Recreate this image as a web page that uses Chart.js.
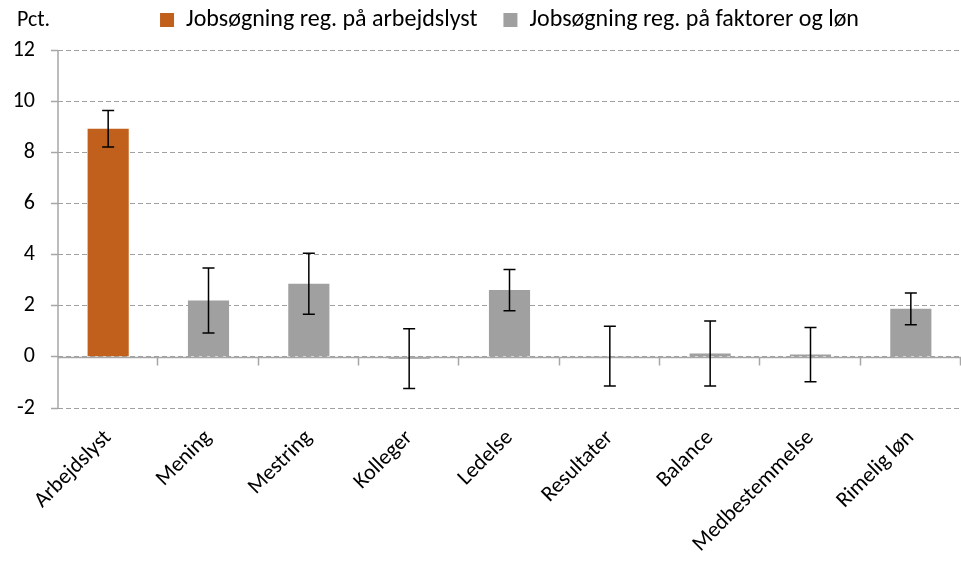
<!DOCTYPE html>
<html>
<head>
<meta charset="utf-8">
<script src="https://cdn.jsdelivr.net/npm/chart.js@4"></script>
<style>
  body { margin: 0; background: #fff; }
  #wrap { width: 961px; height: 563px; }
</style>
</head>
<body>
<div id="wrap"><canvas id="barChart" width="961" height="563"></canvas></div>
<script>
const categories = ['Arbejdslyst', 'Mening', 'Mestring', 'Kolleger', 'Ledelse', 'Resultater', 'Balance', 'Medbestemmelse', 'Rimelig løn'];
const arbejdslyst = [8.92, null, null, null, null, null, null, null, null];
const faktorer = [null, 2.2, 2.86, -0.07, 2.61, 0.03, 0.13, 0.09, 1.88];
const errArbejdslyst = [0.71, null, null, null, null, null, null, null, null];
const errFaktorer = [null, 1.27, 1.19, 1.17, 0.81, 1.17, 1.27, 1.06, 0.62];
const yTicks = [-2, 0, 2, 4, 6, 8, 10, 12];

const FONT = 'Carlito, "Liberation Sans Narrow", "Open Sans", sans-serif';
const LEGEND_PAD = 26;
const LEGEND_SIZE = 24;

// error bars + axis lines with tick marks, like the Excel original
const extras = {
    id: 'extras',
    afterLayout(chart) {
        // keep the legend row near the top edge
        chart.legend.top = 20 - LEGEND_SIZE / 2 - LEGEND_PAD;
    },
    afterDatasetsDraw(chart) {
        const ctx = chart.ctx;
        const y = chart.scales.y;
        const area = chart.chartArea;
        const y0 = Math.round(y.getPixelForValue(0)) + 0.5;
        const step = (area.right - area.left) / categories.length;

        ctx.save();
        ctx.strokeStyle = '#a6a6a6';
        ctx.lineWidth = 1.5;
        ctx.beginPath();
        ctx.moveTo(area.left, y0);
        ctx.lineTo(area.right, y0);
        for (let i = 1; i <= categories.length; i++) {
            const x = Math.round(area.left + i * step) - 0.5;
            ctx.moveTo(x, y0);
            ctx.lineTo(x, y0 + 8);
        }
        ctx.moveTo(area.left, area.top);
        ctx.lineTo(area.left, area.bottom);
        ctx.stroke();

        const errs = [errArbejdslyst, errFaktorer];
        ctx.strokeStyle = '#000';
        ctx.lineWidth = 1.5;
        chart.data.datasets.forEach((ds, d) => {
            const meta = chart.getDatasetMeta(d);
            meta.data.forEach((bar, i) => {
                const v = ds.data[i];
                if (v === null) return;
                const e = errs[d][i];
                const top = y.getPixelForValue(v + e);
                const bot = y.getPixelForValue(v - e);
                ctx.beginPath();
                ctx.moveTo(bar.x, top);
                ctx.lineTo(bar.x, bot);
                ctx.moveTo(bar.x - 6, top);
                ctx.lineTo(bar.x + 6, top);
                ctx.moveTo(bar.x - 6, bot);
                ctx.lineTo(bar.x + 6, bot);
                ctx.stroke();
            });
        });

        ctx.fillStyle = '#000';
        ctx.font = '22px ' + FONT;
        ctx.textBaseline = 'middle';
        ctx.fillText('Pct.', 17, 20);
        ctx.restore();
    }
};

new Chart(document.getElementById('barChart'), {
    type: 'bar',
    data: {
        labels: categories,
        datasets: [{
            label: 'Jobsøgning reg. på arbejdslyst',
            data: arbejdslyst,
            backgroundColor: '#c0601c'
        }, {
            label: 'Jobsøgning reg. på faktorer og løn',
            data: faktorer,
            backgroundColor: '#a0a0a0'
        }]
    },
    options: {
        responsive: false,
        animation: false,
        categoryPercentage: 0.41,
        barPercentage: 1,
        layout: { padding: 0 },
        plugins: {
            legend: {
                position: 'top',
                fullSize: false,
                maxHeight: 40,
                labels: {
                    boxWidth: 14,
                    boxHeight: 14,
                    padding: LEGEND_PAD,
                    color: '#000',
                    font: { family: FONT, size: LEGEND_SIZE }
                }
            },
            title: { display: false },
            tooltip: { enabled: false }
        },
        scales: {
            x: {
                stacked: true,
                grid: { display: false },
                border: { display: false },
                ticks: {
                    color: '#000',
                    font: { family: FONT, size: 22 },
                    minRotation: 45,
                    maxRotation: 45,
                    padding: 9
                },
                afterFit(scale) { scale.height = 155; }
            },
            y: {
                min: -2,
                max: 12,
                afterBuildTicks(scale) { scale.ticks = yTicks.map(v => ({ value: v })); },
                grid: {
                    color: '#a0a0a0',
                    lineWidth: 1,
                    drawTicks: true,
                    tickLength: 7,
                    tickColor: '#a6a6a6',
                    tickWidth: 1.5,
                    tickBorderDash: [10, 0]
                },
                border: { display: false, dash: [5, 3] },
                ticks: {
                    color: '#000',
                    font: { family: FONT, size: 22 },
                    padding: 16
                },
                afterFit(scale) {
                    scale.width = 58;
                    scale.paddingTop = 50;
                }
            }
        }
    },
    plugins: [extras]
});
</script>
</body>
</html>
